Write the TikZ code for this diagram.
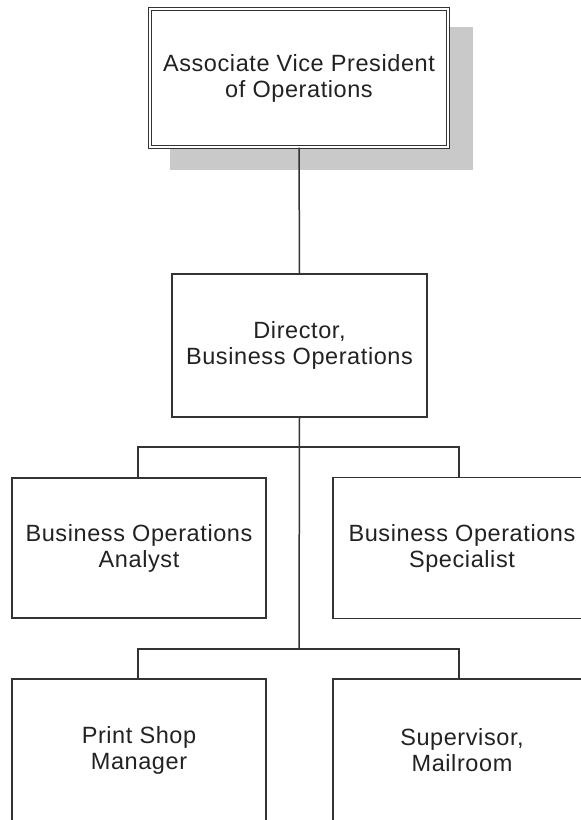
\documentclass[tikz,border=0pt]{standalone}
\usepackage{fontspec}
\setmainfont[LetterSpace=2.5]{Liberation Sans}
\definecolor{lineC}{HTML}{333333}
\definecolor{textC}{HTML}{222222}
\definecolor{shadowC}{HTML}{C9C9C9}
\begin{document}
\begin{tikzpicture}[x=1pt,y=-1pt,
  box/.style={draw=lineC, line width=1.4pt, fill=white, align=center, inner sep=0pt,
    text=textC, font=\fontsize{23.5}{26}\selectfont},
  conn/.style={draw=lineC, line width=1.5pt}]
\useasboundingbox[fill=white] (0,0) rectangle (581,820);
% shadow of the top box
\fill[shadowC] (170,27) rectangle (473,170);
% boxes
\node[box, double=white, double distance=2pt, line width=1.1pt,
      minimum width=298pt, minimum height=138pt] (vp) at (299,78)
      {Associate Vice President\\of Operations};
\node[box, minimum width=255pt, minimum height=143pt] (dir) at (299.5,345.5)
      {Director,\\Business Operations};
\node[box, minimum width=254pt, minimum height=140pt] (an) at (139,548)
      {Business Operations\\Analyst};
\node[box, minimum width=258pt, minimum height=141pt] (sp) at (462,548)
      {Business Operations\\Specialist};
\node[box, minimum width=254pt, minimum height=142pt] (ps) at (139,750)
      {Print Shop\\Manager};
\node[box, minimum width=258pt, minimum height=142pt] (su) at (462,750)
      {Supervisor,\\Mailroom};
% junctions
\coordinate (j1) at (299,447);
\coordinate (j2) at (299,649);
% connectors
\draw[conn] (vp.south) -- (dir.north);
\draw[conn] (dir.south) -- (j2);
\draw[conn] (an.north -| 138,0) |- (j1) -| (sp.north -| 459,0);
\draw[conn] (ps.north -| 138,0) |- (j2) -| (su.north -| 459,0);
\end{tikzpicture}
\end{document}
